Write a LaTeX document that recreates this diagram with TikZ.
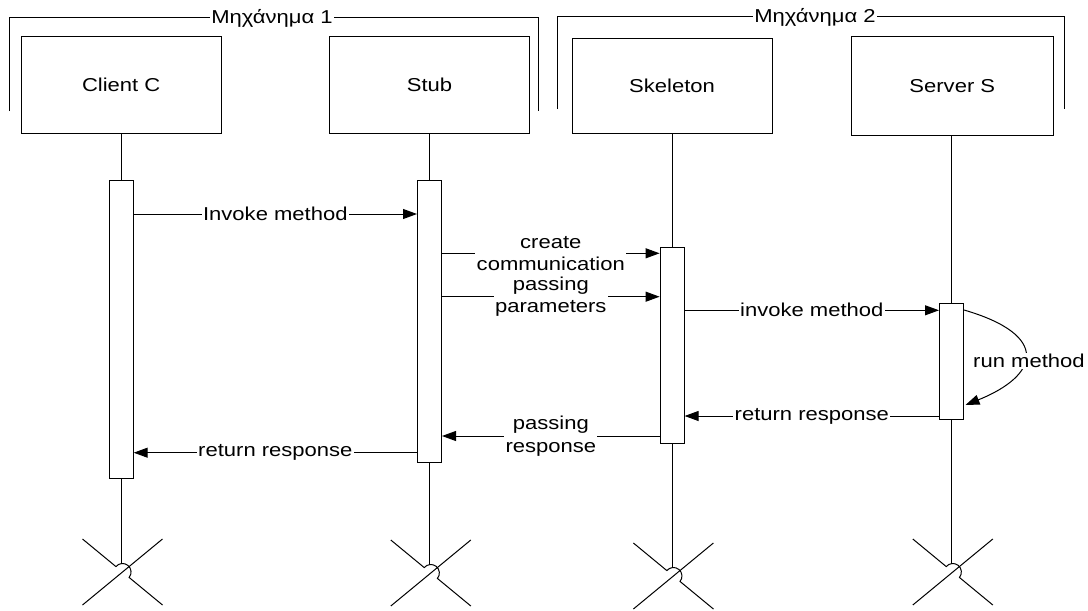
\documentclass[tikz,border=0pt]{standalone}
\usepackage{fontspec}
\setmainfont{Liberation Sans}[FakeStretch=1.18]
\usetikzlibrary{arrows.meta,calc}
\begin{document}
\begin{tikzpicture}[x=0.75pt,y=-0.75pt, line width=0.75pt,
  font=\fontsize{14}{16.8}\selectfont,
  box/.style={draw, rectangle, minimum width=150pt, inner sep=0pt},
  act/.style={draw, fill=white, rectangle, minimum width=18pt, inner sep=0pt},
  msg/.style={-{Triangle[length=10.5pt,width=7.5pt]}},
  lbl/.style={fill=white, inner sep=1pt, align=center},
  frm/.style={draw},
  xmark/.style={draw}]
\useasboundingbox (0,0) rectangle (1088,610);

% frames
\draw[frm] (9.6,111) -- (9.6,18) -- (538.6,18) -- (538.6,111);
\node[lbl] (f1) at (272,18) {Μηχάνημα 1};
\draw[frm] (557,109) -- (557,17) -- (1064,17) -- (1064,109);
\node[lbl] (f2) at (815,17) {Μηχάνημα 2};

% participant boxes
\node[box, minimum height=72.7pt] (client) at (121.2,84.9) {Client C};
\node[box, minimum height=72.7pt] (stub) at (429.5,84.9) {Stub};
\node[box, minimum height=71.1pt] (skel) at (672.1,85.9) {Skeleton};
\node[box, minimum width=151.6pt, minimum height=73.9pt] (serv) at (952.3,86) {Server S};

% activation bars
\node[act, minimum height=223.7pt] (ca) at (121.2,329.85) {};
\node[act, minimum height=211.5pt] (sa) at (429.5,321.7) {};
\node[act, minimum height=147pt] (ka) at (672.1,345) {};
\node[act, minimum height=87.5pt] (va) at (951.5,361.65) {};

% X centres
\coordinate (xc) at (122.5,572);
\coordinate (xs) at (430.8,573);
\coordinate (xk) at (673.4,576);
\coordinate (xv) at (952.8,572);
\coordinate (tc) at ($(xc)+(0,-8.4)$);
\coordinate (ts) at ($(xs)+(0,-8.4)$);
\coordinate (tk) at ($(xk)+(0,-8.4)$);
\coordinate (tv) at ($(xv)+(0,-8.4)$);

% lifelines
\draw (client.south) -- (ca.north);
\draw (stub.south) -- (sa.north);
\draw (skel.south) -- (ka.north);
\draw (va.north |- serv.south) -- (va.north);
\draw (ca.south) -- (ca.south |- tc);
\draw (sa.south) -- (sa.south |- ts);
\draw (ka.south) -- (ka.south |- tk);
\draw (va.south) -- (va.south |- tv);

% destruction marks
\foreach \c in {xc,xs,xk,xv}{
  \draw[xmark] (\c) ++(-40,-33) -- ++(33.45,27.59)
     arc[start angle=140.5, end angle=-39.5, radius=6.4pt] -- ++(33.45,27.59);
  \draw[xmark] (\c) ++(-40,33) -- ++(80,-66);
}

% message levels
\coordinate (m1) at (0,214);
\coordinate (m2) at (0,253.3);
\coordinate (m3) at (0,296.7);
\coordinate (m4) at (0,310.3);
\coordinate (m5) at (0,416);
\coordinate (m6) at (0,436);
\coordinate (m7) at (0,452.7);
\coordinate (r1) at (0,310);
\coordinate (r2) at (0,405);

\draw[msg] (ca.east |- m1) -- node[lbl] {Invoke method} (sa.west |- m1);
\draw[msg] (sa.east |- m2) -- node[lbl] {create\\communication} (ka.west |- m2);
\draw[msg] (sa.east |- m3) -- node[lbl] {passing\\parameters} (ka.west |- m3);
\draw[msg] (ka.east |- m4) -- node[lbl] {invoke method} (va.west |- m4);
\draw[msg] (va.east |- r1) .. controls (1050,335) and (1040,375) .. node[lbl, pos=0.5, xshift=3pt, yshift=-4pt] {run method} ($(va.east |- r2)+(1.5,0)$);
\draw[msg] (va.west |- m5) -- node[lbl] {return response} (ka.east |- m5);
\draw[msg] (ka.west |- m6) -- node[lbl] {passing\\response} (sa.east |- m6);
\draw[msg] (sa.west |- m7) -- node[lbl] {return response} (ca.east |- m7);
\end{tikzpicture}
\end{document}
